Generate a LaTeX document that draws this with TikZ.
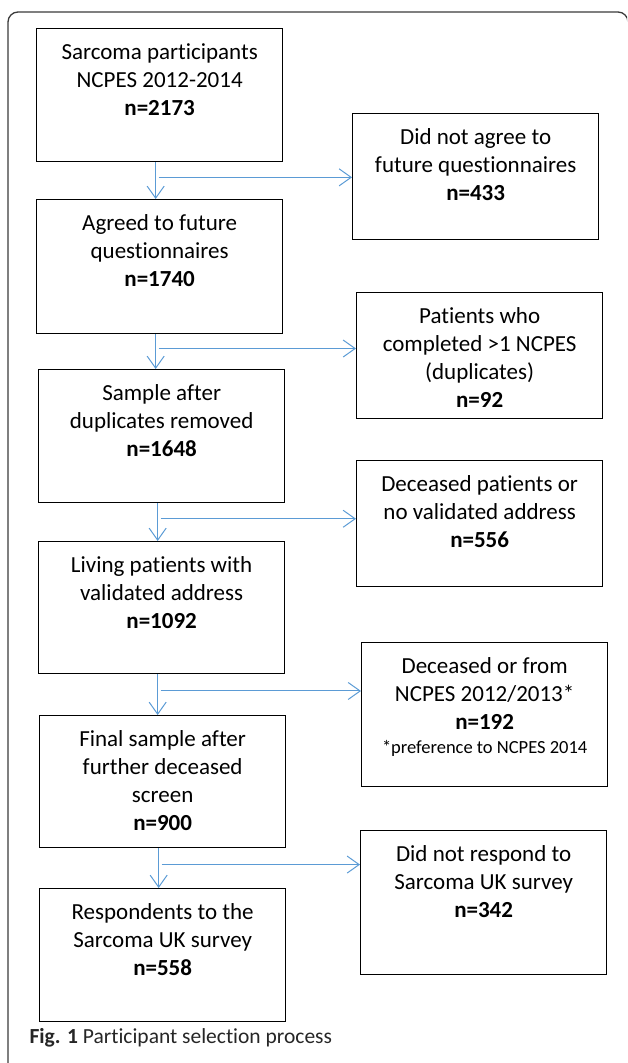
\documentclass[tikz,border=0pt]{standalone}
\usepackage{fontspec}
\setmainfont{Carlito}[Ligatures=NoCommon]
\usepackage{xcolor}
\usetikzlibrary{arrows.meta, calc}

\definecolor{arrowblue}{HTML}{5B9BD5}
\definecolor{framegray}{HTML}{3A3A3A}

\begin{document}
\begin{tikzpicture}[
    x=1pt, y=-1pt,
    >={Straight Barb[length=12pt,width=17pt]},
    font=\fontsize{23}{28}\selectfont,
    flowbox/.style={draw=black, line width=1.3pt, inner sep=0pt, anchor=north west,
        execute at begin node={\begin{minipage}[c][#1][t]{246pt}\centering\vspace*{11pt}\strut},
        execute at end node={\end{minipage}}},
    flowbox/.default=133pt,
    flowline/.style={draw=arrowblue, line width=1pt, ->}
]

\useasboundingbox (0,0) rectangle (627,1063);
\clip (0,0) rectangle (627,1063);

% Outer frame
\draw[framegray, line width=1.3pt, rounded corners=10pt] (8,12) rectangle (628,1080);

% Left column
\node[flowbox] (b1) at (36,28) {Sarcoma participants\\NCPES 2012-2014\\\textbf{n=2173}};
\node[flowbox=134pt] (b2) at (36,199) {Agreed to future\\questionnaires\\\textbf{n=1740}};
\node[flowbox] (b3) at (38,369) {Sample after\\duplicates removed\\\textbf{n=1648}};
\node[flowbox=132pt] (b4) at (38,541) {Living patients with\\validated address\\\textbf{n=1092}};
\node[flowbox=132pt] (b5) at (39,715) {Final sample after\\further deceased\\screen\\\textbf{n=900}};
\node[flowbox] (b6) at (39,888) {Respondents to the\\Sarcoma UK survey\\\textbf{n=558}};

% Right column (exclusions)
\node[flowbox=126pt] (r1) at (352,113) {Did not agree to\\future questionnaires\\\textbf{n=433}};
\node[flowbox=126pt] (r2) at (356,292) {Patients who\\completed >1 NCPES\\(duplicates)\\\textbf{n=92}};
\node[flowbox=126pt] (r3) at (356,460) {Deceased patients or\\no validated address\\\textbf{n=556}};
\node[flowbox=144pt] (r4) at (361,642) {Deceased or from\\NCPES 2012/2013*\\\textbf{n=192}\\[-4pt]{\fontsize{18.5}{22}\selectfont *preference to NCPES 2014}};
\node[flowbox=144pt] (r5) at (360,830) {Did not respond to\\Sarcoma UK survey\\\textbf{n=342}};

% Split points
\coordinate (s1) at ($([xshift=-4pt]b1.south)!0.41!([xshift=-4pt]b1.south |- b2.north)$);
\coordinate (s2) at ($([xshift=-4pt]b2.south)!0.41!([xshift=-4pt]b2.south |- b3.north)$);
\coordinate (s3) at ($([xshift=-4pt]b3.south)!0.41!([xshift=-4pt]b3.south |- b4.north)$);
\coordinate (s4) at ($([xshift=-4pt]b4.south)!0.41!([xshift=-4pt]b4.south |- b5.north)$);
\coordinate (s5) at ($([xshift=-4pt]b5.south)!0.41!([xshift=-4pt]b5.south |- b6.north)$);

% Main flow
\draw[flowline] ([xshift=-4pt]b1.south) -- ([xshift=-4pt]b1.south |- b2.north);
\draw[flowline] ([xshift=-4pt]b2.south) -- ([xshift=-4pt]b2.south |- b3.north);
\draw[flowline] ([xshift=-4pt]b3.south) -- ([xshift=-4pt]b3.south |- b4.north);
\draw[flowline] ([xshift=-4pt]b4.south) -- ([xshift=-4pt]b4.south |- b5.north);
\draw[flowline] ([xshift=-4pt]b5.south) -- ([xshift=-4pt]b5.south |- b6.north);

% Exclusions
\draw[flowline] ([xshift=3pt]s1) -- (s1 -| r1.west);
\draw[flowline] ([xshift=3pt]s2) -- (s2 -| r2.west);
\draw[flowline] ([xshift=3pt]s3) -- (s3 -| r3.west);
\draw[flowline] ([xshift=3pt]s4) -- (s4 -| r4.west);
\draw[flowline] ([xshift=3pt]s5) -- (s5 -| r5.west);

% Caption
\node[anchor=base west, text=black!85, font=\fontsize{21.5}{26}\selectfont] (caption) at (26,1043) {\textbf{Fig. 1} Participant selection process};

\end{tikzpicture}
\end{document}
